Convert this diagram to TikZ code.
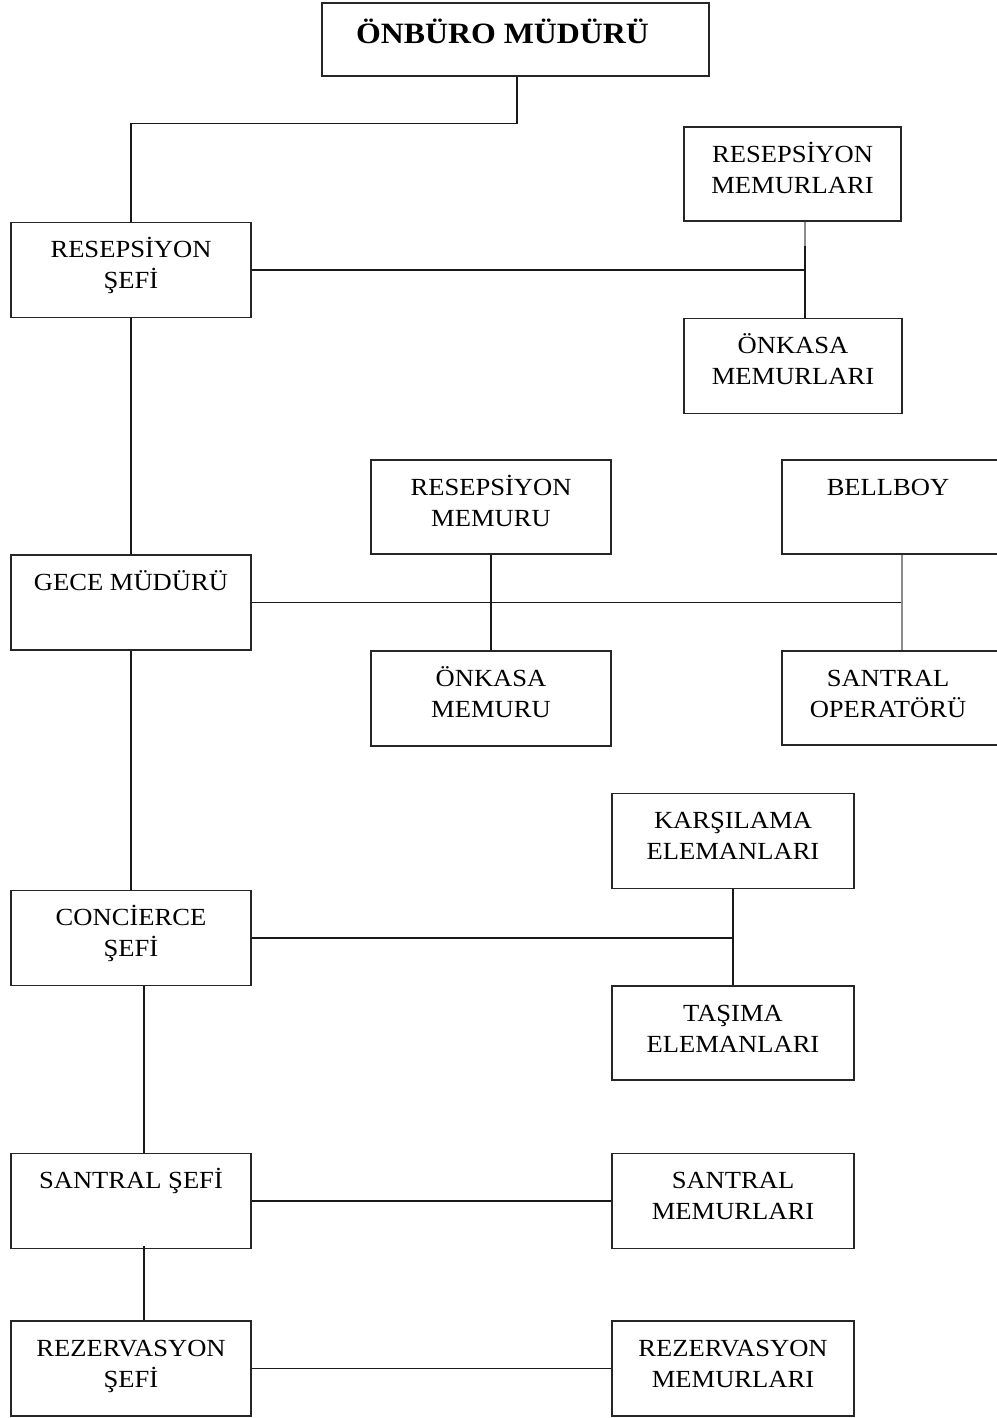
\documentclass[tikz,border=0pt]{standalone}
\usepackage{fontspec}
\setmainfont{Liberation Serif}[FakeStretch=1.08]

\begin{document}
\begin{tikzpicture}[x=1pt,y=-1pt]
        \tikzset{orgbox/.style={draw=black!85,line width=1.3pt,rectangle,inner sep=0pt,
                minimum width=240,minimum height=95},
            lbl/.style={anchor=base,yshift=-36,align=center,inner sep=0pt,
                font=\fontsize{24.6}{31}\selectfont},
            lbltwo/.style={lbl,yshift=-31},
            link/.style={draw=black!90,line width=1.4pt},
            faint/.style={draw=black!45,line width=1.3pt}}
        \useasboundingbox (0,0) rectangle (996,1418);
        % boxes
        \node[orgbox,minimum width=387,minimum height=73,
            label={[lbl,yshift=-5,xshift=-13,font=\bfseries\fontsize{29.5}{34}\selectfont]north:ÖNBÜRO MÜDÜRÜ}]
            (ob) at (515.5,39.5) {};
        \node[orgbox,label={[lbltwo]north:RESEPSİYON\\ŞEFİ}] (rsefi) at (131,270) {};
        \node[orgbox,minimum width=217,minimum height=94,
            label={[lbltwo]north:RESEPSİYON\\MEMURLARI}] (rmemurlari) at (792.5,174) {};
        \node[orgbox,minimum width=218,
            label={[lbltwo]north:ÖNKASA\\MEMURLARI}] (okmemurlari) at (793,366) {};
        \node[orgbox,label={[lbl]north:GECE MÜDÜRÜ}] (gece) at (131,602.5) {};
        \node[orgbox,minimum height=94,
            label={[lbltwo]north:RESEPSİYON\\MEMURU}] (rmemuru) at (491,507) {};
        \node[orgbox,label={[lbltwo]north:ÖNKASA\\MEMURU}] (okmemuru) at (491,698.5) {};
        \node[orgbox,minimum width=216,minimum height=94,
            label={[lbl,xshift=-2]north:BELLBOY}] (bellboy) at (890,507) {};
        \node[orgbox,minimum width=216,minimum height=94,
            label={[lbltwo,xshift=-2]north:SANTRAL\\OPERATÖRÜ}] (santralop) at (890,698) {};
        \node[orgbox,label={[lbltwo]north:CONCİERCE\\ŞEFİ}] (conc) at (131,938) {};
        \node[orgbox,minimum width=242,
            label={[lbltwo]north:KARŞILAMA\\ELEMANLARI}] (karsilama) at (733,841) {};
        \node[orgbox,minimum width=242,minimum height=94,
            label={[lbltwo]north:TAŞIMA\\ELEMANLARI}] (tasima) at (733,1033) {};
        \node[orgbox,label={[lbl]north:SANTRAL ŞEFİ}] (santralsefi) at (131,1201) {};
        \node[orgbox,minimum width=242,
            label={[lbltwo]north:SANTRAL\\MEMURLARI}] (santralmem) at (733,1201) {};
        \node[orgbox,label={[lbltwo]north:REZERVASYON\\ŞEFİ}] (rezsefi) at (131,1368.5) {};
        \node[orgbox,minimum width=242,
            label={[lbltwo]north:REZERVASYON\\MEMURLARI}] (rezmem) at (733,1368.5) {};
        % junctions
        \coordinate (jr) at (805,270);
        \coordinate (jg) at (902,602.5);
        % connectors
        \draw[link] ([xshift=1.5]ob.south) -- ++(0,47) -| (rsefi.north);
        \draw[link] (rsefi.east) -- (jr);
        \draw[faint] (rmemurlari.south -| jr) -- ++(0,24);
        \draw[link] ([yshift=-24]rmemurlari.south -| jr) -- (okmemurlari.north -| jr);
        \draw[link] (rsefi.south) -- (gece.north);
        \draw[link] (gece.east) -- (jg);
        \draw[link] (rmemuru.south) -- (okmemuru.north);
        \draw[faint] (bellboy.south -| jg) -- (santralop.north -| jg);
        \draw[link] (gece.south) -- (conc.north);
        \draw[link] (conc.east) -- (conc.east -| karsilama.south);
        \draw[link] (karsilama.south) -- (tasima.north);
        \draw[link] ([xshift=13]conc.south) -- ([xshift=13]santralsefi.north);
        \draw[link] (santralsefi.east) -- (santralmem.west);
        \draw[link] ([xshift=13,yshift=3]santralsefi.south) -- ([xshift=13]rezsefi.north);
        \draw[link] (rezsefi.east) -- (rezmem.west);
    \end{tikzpicture}
\end{document}
